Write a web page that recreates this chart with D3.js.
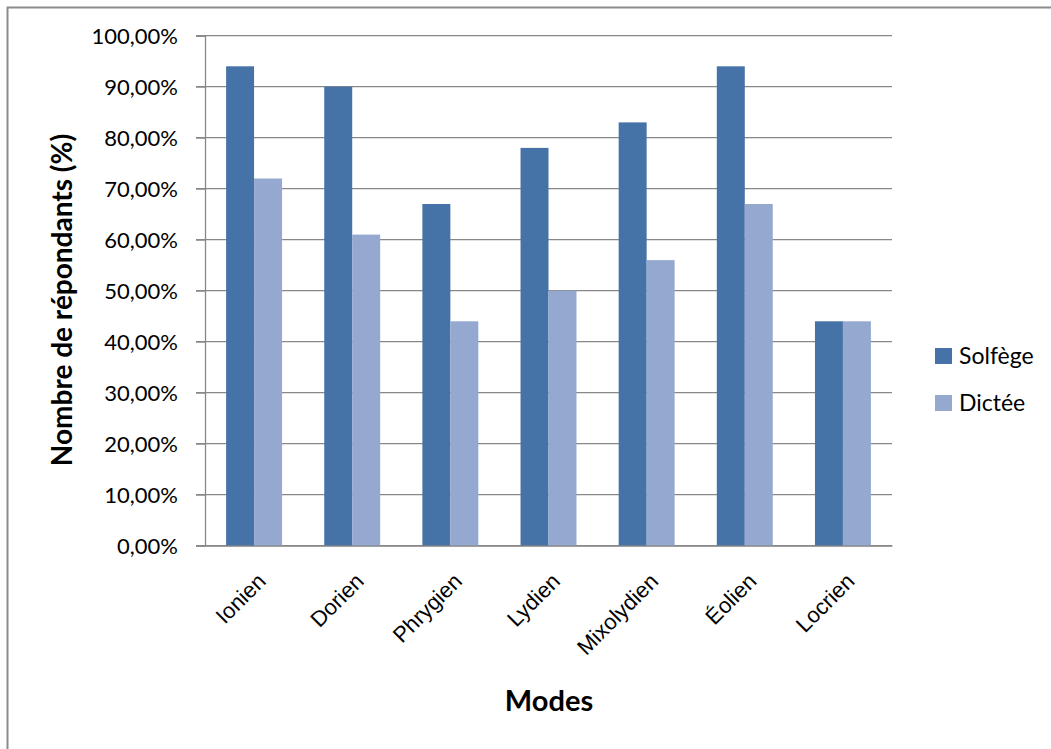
<!DOCTYPE html>
<html><head><meta charset="utf-8">
<script src="https://cdn.jsdelivr.net/npm/d3@7"></script>
<style>html,body{margin:0;background:#fff;overflow:hidden}svg{display:block;font-family:Lato,"Open Sans",sans-serif}</style>
</head><body><svg id="c" width="1051" height="749"></svg>
<script>
const categories = ["Ionien","Dorien","Phrygien","Lydien","Mixolydien","Éolien","Locrien"];
const seriesNames = ["Solfège","Dictée"];
const solfege = [94,90,67,78,83,94,44];
const dictee = [72,61,44,50,56,67,44];
const yTicks = [0,10,20,30,40,50,60,70,80,90,100];
const colors = ["#4572A7","#95A9D0"];

const svg = d3.select("#c");
svg.append("path").attr("d","M7.5,749V7.5H1051")
  .attr("fill","none").attr("stroke","#8c8c8c").attr("stroke-width",2);

const L=205, R=892, T=35.7, B=545.7;
const x = d3.scaleBand().domain(categories).range([L,R]).padding(0);
const y = d3.scaleLinear().domain([0,100]).range([B,T]);
const fmt = v => d3.format(".2f")(v).replace(".",",")+"%";

// gridlines
svg.append("g").selectAll("line").data(yTicks).join("line")
  .attr("x1",L-9).attr("x2",R).attr("y1",d=>y(d)).attr("y2",d=>y(d))
  .attr("stroke","#888").attr("stroke-width",1.3);

// y axis
const ya = svg.append("g").attr("transform",`translate(${L},0)`)
  .call(d3.axisLeft(y).tickValues(yTicks).tickFormat(fmt).tickSize(9).tickPadding(18));
ya.select(".domain").attr("stroke","#888").attr("stroke-width",1.3);
ya.selectAll(".tick line").attr("stroke","#888");
ya.selectAll("text").attr("font-size",22).attr("fill","#000").attr("font-family","Lato, sans-serif").attr("dy","0.36em");

// bars
const bw = x.bandwidth()*0.285;
const data = [solfege, dictee];
data.forEach((vals,si)=>{
  svg.append("g").selectAll("rect").data(categories).join("rect")
    .attr("x",(c)=>x(c)+x.bandwidth()/2 - bw + si*bw)
    .attr("width",bw)
    .attr("y",(c,i)=>y(vals[i]))
    .attr("height",(c,i)=>B-y(vals[i]))
    .attr("fill",colors[si]);
});

// x axis
const xa = svg.append("g").attr("transform",`translate(0,${B})`)
  .call(d3.axisBottom(x).tickSize(0).tickPadding(0));
xa.select(".domain").attr("stroke","#888").attr("stroke-width",1.3);
xa.selectAll("text").attr("font-size",22).attr("fill","#000")
  .attr("text-anchor","end").attr("dy",0)
  .attr("transform","translate(13,37) rotate(-45)")
  .attr("y",0).attr("x",0);

// axis titles
svg.append("text").attr("transform","translate(72,300) rotate(-90)")
  .attr("text-anchor","middle").attr("font-size",28).attr("font-weight","bold").text("Nombre de répondants (%)");
svg.append("text").attr("x",549).attr("y",711).attr("text-anchor","middle")
  .attr("font-size",29).attr("font-weight","bold").text("Modes");

// legend
seriesNames.forEach((n,i)=>{
  const ly = 348 + i*47;
  svg.append("rect").attr("x",935).attr("y",ly).attr("width",17).attr("height",16).attr("fill",colors[i]);
  svg.append("text").attr("x",959).attr("y",ly+16).attr("font-size",23).text(n);
});
</script></body></html>
